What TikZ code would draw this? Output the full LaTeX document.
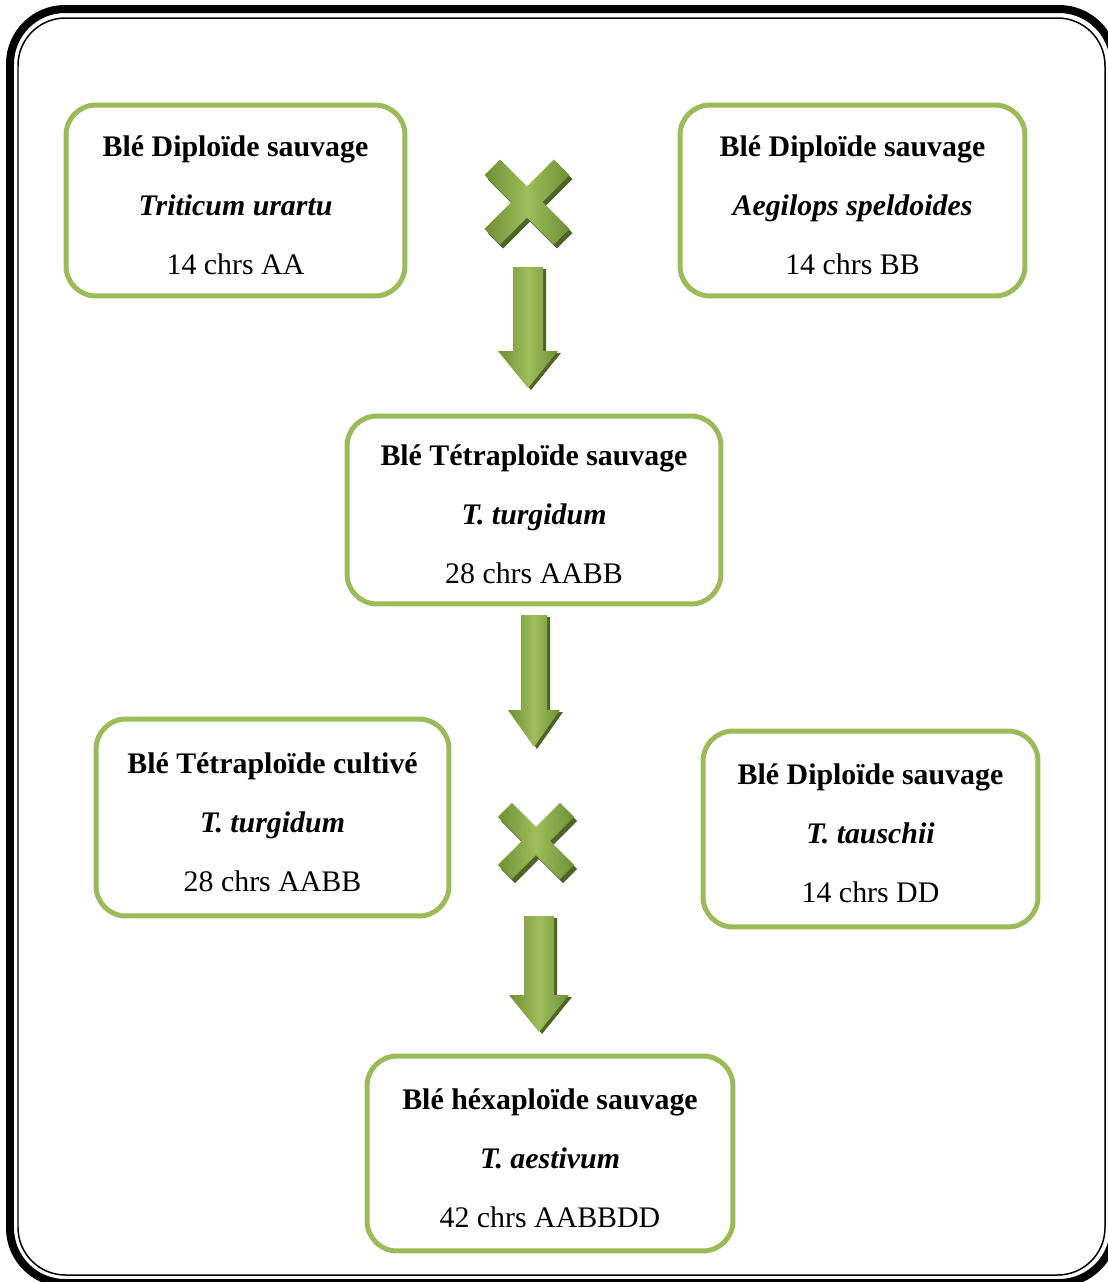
\documentclass[tikz,border=0pt]{standalone}
\usepackage{fontspec}
\setmainfont{Liberation Serif}
\usepackage{tikz}

\definecolor{boxgreen}{HTML}{9BBB59}
\definecolor{darkgreen}{HTML}{4F6228}
\definecolor{midgreen}{HTML}{6F8F35}
\definecolor{lightgreen}{HTML}{9DBE5A}

\newcommand{\wheattext}[3]{\raisebox{-0.06cm}[\height][\depth]{%
    \begin{tabular}{@{}c@{}}\textbf{#1}\\ \textbf{\textit{#2}}\\ #3\end{tabular}}}

\tikzset{
  wheatbox/.style={draw=boxgreen, line width=0.1cm, rounded corners=0.6cm, fill=white,
    inner sep=0pt, font=\fontsize{17}{33.5}\selectfont},
  greenshade/.style={left color=midgreen, right color=midgreen, middle color=lightgreen},
}

\begin{document}
\begin{tikzpicture}[x=0.02cm, y=-0.02cm]
    \useasboundingbox (0,0) rectangle (1108,1282);
    % frame
    \draw[line width=0.16cm, rounded corners=1.1cm] (10,9) rectangle (1114,1283);
    \draw[line width=0.03cm, rounded corners=0.95cm] (18,18) rectangle (1105,1275);
    % boxes
    \node[wheatbox, minimum width=6.78cm, minimum height=3.82cm] (diploA) at (235.5,200.5)
        {\wheattext{Blé Diploïde sauvage}{Triticum urartu}{14 chrs AA}};
    \node[wheatbox, minimum width=6.9cm, minimum height=3.82cm] (diploB) at (852.5,200.5)
        {\wheattext{Blé Diploïde sauvage}{Aegilops speldoides}{14 chrs BB}};
    \node[wheatbox, minimum width=7.48cm, minimum height=3.76cm] (tetraS) at (534,510)
        {\wheattext{Blé Tétraploïde sauvage}{T. turgidum}{28 chrs AABB}};
    \node[wheatbox, minimum width=7.06cm, minimum height=3.94cm] (tetraC) at (272.5,817.5)
        {\wheattext{Blé Tétraploïde cultivé}{T. turgidum}{28 chrs AABB}};
    \node[wheatbox, minimum width=6.7cm, minimum height=3.92cm] (diploD) at (870.5,829)
        {\wheattext{Blé Diploïde sauvage}{T. tauschii}{14 chrs DD}};
    \node[wheatbox, minimum width=7.32cm, minimum height=3.9cm] (hexa) at (550,1153.5)
        {\wheattext{Blé héxaploïde sauvage}{T. aestivum}{42 chrs AABBDD}};
    % crosses
    \foreach \cx/\cy/\al/\aw in {527/202/49/11, 536/841/44/10} {
        \fill[darkgreen, shift={(\cx+3,\cy+4)}, rotate=45] (-\al,-\aw) rectangle (\al,\aw) (-\aw,-\al) rectangle (\aw,\al);
        \begin{scope}[shift={(\cx,\cy)}, rotate=45]
            \shade[greenshade] (-\al,-\aw) rectangle (\al,\aw);
            \shade[greenshade, shading angle=90] (-\aw,-\al) rectangle (\aw,\al);
        \end{scope}
    }
    % block arrows
    \foreach \cx/\ta/\tb/\sw in {528/267/388/15, 534/615/747/13, 539/916/1032/15} {
        \pgfmathsetmacro\hl{\tb-\ta}
        \pgfmathsetmacro\hw{2*\sw}
        \fill[darkgreen, shift={(\cx+3,\ta+2)}] (-\sw,0) -- (\sw,0) -- (\sw,\hl-37) -- (\hw,\hl-37)
            -- (0,\hl) -- (-\hw,\hl-37) -- (-\sw,\hl-37) -- cycle;
        \shade[greenshade, shift={(\cx,\ta)}] (-\sw,0) -- (\sw,0) -- (\sw,\hl-37) -- (\hw,\hl-37)
            -- (0,\hl) -- (-\hw,\hl-37) -- (-\sw,\hl-37) -- cycle;
    }
\end{tikzpicture}
\end{document}
